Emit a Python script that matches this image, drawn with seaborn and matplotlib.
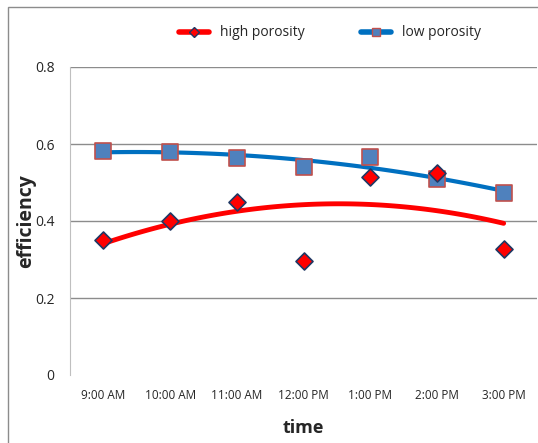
import numpy as np
import pandas as pd
import matplotlib
matplotlib.use("Agg")
import matplotlib.pyplot as plt
import seaborn as sns
from matplotlib.lines import Line2D
from matplotlib.patches import Rectangle

# data
times = ["9:00 AM", "10:00 AM", "11:00 AM", "12:00 PM", "1:00 PM", "2:00 PM", "3:00 PM"]
high_porosity = [0.35, 0.40, 0.45, 0.297, 0.515, 0.525, 0.327]
low_porosity = [0.582, 0.58, 0.564, 0.54, 0.566, 0.51, 0.472]
y_ticks = [0, 0.2, 0.4, 0.6, 0.8]

df = pd.DataFrame({
    "pos": np.arange(len(times)),
    "time": times,
    "high": high_porosity,
    "low": low_porosity,
})

sns.set_style("white")
plt.rcParams["font.family"] = ["Open Sans", "DejaVu Sans"]

fig = plt.figure(figsize=(5.38, 4.43), dpi=100)
ax = fig.add_axes([70 / 538, 1 - 375 / 443, 467 / 538, 308 / 443])

grid_c = "#8c8c8c"
for v in y_ticks[1:]:
    ax.axhline(v, color=grid_c, lw=1, zorder=0)

# polynomial trendlines (order 2)
sns.regplot(data=df, x="pos", y="low", order=2, ci=None, scatter=False, ax=ax,
            line_kws=dict(color="#0070c0", lw=3, zorder=2))
sns.regplot(data=df, x="pos", y="high", order=2, ci=None, scatter=False, ax=ax,
            line_kws=dict(color="#ff0000", lw=3.5, zorder=2))

# markers
sns.scatterplot(data=df, x="pos", y="low", marker="s", s=120, color="#4f81bd",
                edgecolor="#c0504d", linewidth=1.2, ax=ax, zorder=3)
sns.scatterplot(data=df, x="pos", y="high", marker="D", s=75, color="#ff0000",
                edgecolor="#1f3864", linewidth=1.2, ax=ax, zorder=4)

ax.set_xlim(-0.5, 6.5)
ax.set_ylim(0, 0.8)
ax.set_yticks(y_ticks)
ax.set_yticklabels(["0", "0.2", "0.4", "0.6", "0.8"], fontsize=10)
ax.set_xticks(df["pos"])
ax.set_xticklabels(times, fontsize=8.5)
ax.set_xticks(np.arange(0.5, 6, 1), minor=True)
ax.tick_params(axis="x", which="major", length=0, pad=10)
ax.tick_params(axis="x", which="minor", length=5, color="#bfbfbf", direction="in")
ax.tick_params(axis="y", length=5, color=grid_c, direction="out", pad=6)

for s in ["top", "right", "bottom"]:
    ax.spines[s].set_visible(False)
ax.spines["left"].set_color("#bfbfbf")

ax.set_xlabel("time", fontsize=13, fontweight="bold", labelpad=12)
ax.set_ylabel("efficiency", fontsize=14, fontweight="bold")
ax.yaxis.set_label_coords(-34 / 467, 0.5)

handles = [
    Line2D([], [], color="#ff0000", lw=4, marker="D", markersize=5,
           markerfacecolor="#ff0000", markeredgecolor="#1f3864"),
    Line2D([], [], color="#0070c0", lw=4, marker="s", markersize=6,
           markerfacecolor="#4f81bd", markeredgecolor="#c0504d"),
]
fig.legend(handles, ["high porosity", "low porosity"], loc="center",
           bbox_to_anchor=(330 / 538, 1 - 33 / 443), ncol=2, frameon=False,
           fontsize=10, handlelength=2.2, columnspacing=4)

fig.patches.append(Rectangle((8 / 538, -0.1), 1.2, 1 - 7 / 443 + 0.1,
                             transform=fig.transFigure, fill=False,
                             edgecolor="#8c8c8c", lw=1))

fig.savefig("out.png", dpi=100)
